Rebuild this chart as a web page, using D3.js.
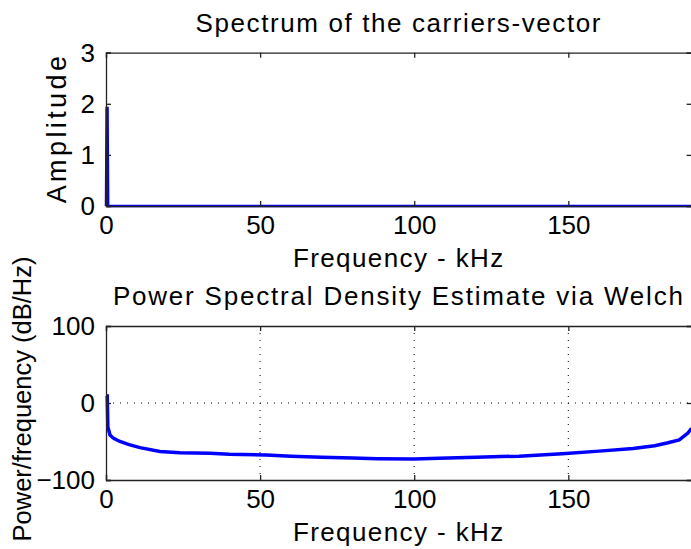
<!DOCTYPE html>
<html>
<head>
<meta charset="utf-8">
<script src="https://cdn.jsdelivr.net/npm/d3@7"></script>
<style>
  body { margin: 0; background: #fff; }
  text { font-family: "Liberation Sans", Arial, sans-serif; fill: #000; }
</style>
</head>
<body>
<div class="chart"></div>
<script>
var width = 691;
var height = 549;

// top panel: spectrum of the carriers-vector
var specFreq = [0, 0.2, 0.5, 0.7, 190];
var specAmp = [0, 1.92, 1.92, 0, 0];

// bottom panel: Welch PSD estimate (dB/Hz)
var psdFreq = [0, 0.4, 0.6, 1.3, 2.5, 4.5, 7.5, 11, 17.5, 24, 33.7, 40, 52, 60, 70, 80, 88, 100,
  108, 120, 134, 148, 160, 171, 178, 182, 186, 188.8, 190];
var psdDb = [9, 9, -31, -41.5, -46, -50, -54, -58, -63, -64.5, -65.3, -66.5, -67.5, -69, -70.5, -71.5, -72.3, -72.8,
  -71.8, -70.5, -69, -66, -62.5, -59, -55.5, -52, -48, -39, -33];

var xTicks = [0, 50, 100, 150];
var ampTicks = [0, 1, 2, 3];
var dbTicks = [-100, 0, 100];

var svg = d3.select(".chart").append("svg")
  .attr("width", width)
  .attr("height", height);

var left = 106, right = 691.6;

function draw_panel(opts) {
  var x = d3.scaleLinear().domain([0, 190]).range([left, right]);
  var y = d3.scaleLinear().domain(opts.yDomain).range([opts.bottom, opts.top]);
  var g = svg.append("g");

  // dotted grid
  if (opts.grid) {
    g.selectAll(".gx").data(xTicks.slice(1)).enter().append("line")
      .attr("x1", d => x(d)).attr("x2", d => x(d))
      .attr("y1", opts.top).attr("y2", opts.bottom)
      .attr("stroke", "#000").attr("stroke-width", 1)
      .attr("stroke-dasharray", "1,6");
    g.selectAll(".gy").data([0]).enter().append("line")
      .attr("x1", left).attr("x2", right)
      .attr("y1", d => y(d)).attr("y2", d => y(d))
      .attr("stroke", "#000").attr("stroke-width", 1)
      .attr("stroke-dasharray", "1,6");
  }

  // data line
  var line = d3.line().x((d, i) => x(opts.xs[i])).y(d => y(d));
  g.append("path")
    .datum(opts.ys)
    .attr("d", line)
    .attr("fill", "none")
    .attr("stroke", "#0000ff")
    .attr("stroke-width", opts.lw)
    .attr("stroke-linejoin", "miter");

  // axes, ticks pointing inward
  var xb = g.append("g").attr("transform", "translate(0," + opts.bottom + ")")
    .call(d3.axisBottom(x).tickValues(xTicks).tickSize(-5).tickPadding(10).tickFormat(d3.format("d")));
  var xt = g.append("g").attr("transform", "translate(0," + opts.top + ")")
    .call(d3.axisTop(x).tickValues(xTicks).tickSize(-5).tickFormat(""));
  var yl = g.append("g").attr("transform", "translate(" + left + ",0)")
    .call(d3.axisLeft(y).tickValues(opts.yTicks).tickSize(-5).tickPadding(11).tickFormat(d3.format("d")));
  var yr = g.append("g").attr("transform", "translate(" + right + ",0)")
    .call(d3.axisRight(y).tickValues(opts.yTicks).tickSize(-5).tickFormat(""));

  [xb, xt, yl, yr].forEach(function (a) {
    a.select(".domain").attr("stroke", "#222").attr("stroke-width", 1.3);
    a.selectAll(".tick line").attr("stroke", "#222").attr("stroke-width", 1.3);
    a.selectAll("text").style("font-size", "26px").attr("fill", "#000")
      .style("font-family", "'Liberation Sans', Arial, sans-serif");
  });
  xb.selectAll("text").attr("dy", "0.71em");

  // title
  svg.append("text")
    .attr("x", (left + right) / 2).attr("y", opts.top - 21)
    .attr("text-anchor", "middle")
    .style("font-size", "26px").style("letter-spacing", opts.titleSpacing)
    .text(opts.title);
  // x label
  svg.append("text")
    .attr("x", (left + right) / 2).attr("y", opts.bottom + 61)
    .attr("text-anchor", "middle")
    .style("font-size", "26px").style("letter-spacing", "1.4px")
    .text("Frequency - kHz");
  // y label
  svg.append("text")
    .attr("transform", "translate(" + opts.ylabX + "," + opts.ylabY + ") rotate(-90)")
    .attr("text-anchor", "middle")
    .style("font-size", opts.ylabSize).style("letter-spacing", opts.ylabSpacing)
    .text(opts.ylabel);
}

draw_panel({
  top: 52.7, bottom: 206, yDomain: [0, 3], yTicks: ampTicks,
  xs: specFreq, ys: specAmp, lw: 2.5, grid: false,
  title: "Spectrum of the carriers-vector", titleSpacing: "1.6px",
  ylabel: "Amplitude", ylabX: 66, ylabY: 128, ylabSize: "27px", ylabSpacing: "3.4px"
});

draw_panel({
  top: 326, bottom: 480, yDomain: [-100, 100], yTicks: dbTicks,
  xs: psdFreq, ys: psdDb, lw: 3.5, grid: true,
  title: "Power Spectral Density Estimate via Welch", titleSpacing: "1.8px",
  ylabel: "Power/frequency (dB/Hz)", ylabX: 31, ylabY: 399, ylabSize: "25.5px", ylabSpacing: "0px"
});
</script>
</body>
</html>
